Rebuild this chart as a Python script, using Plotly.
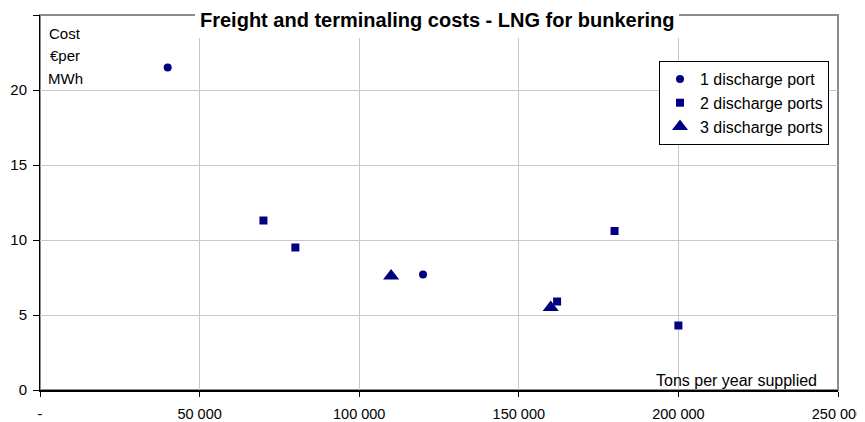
import plotly.graph_objects as go

# Data
one_port_x = [40000, 120000]
one_port_y = [21.5, 7.7]
two_ports_x = [70000, 80000, 162000, 180000, 200000]
two_ports_y = [11.3, 9.5, 5.9, 10.6, 4.3]
three_ports_x = [110000, 160000]
three_ports_y = [7.6, 5.5]

x_tickvals = [0, 50000, 100000, 150000, 200000, 250000]
x_ticktext = ["-", "50 000", "100 000", "150 000", "200 000", "250 000"]
y_tickvals = [0, 5, 10, 15, 20, 25]

NAVY = "#000080"
FONT = "Arial, Liberation Sans, sans-serif"

OFF = 8  # page body margin offset
W, H = 865 - OFF, 422 - OFF
# target plot area in screen pixels
SX0, SX1, SY0, SY1 = 40, 838, 15, 390
L = SX0 - OFF
T = SY0 - OFF
R = W + OFF - SX1
B = H + OFF - SY1
PW, PH = SX1 - SX0, SY1 - SY0

def px(xs):
    return (xs - SX0) / PW

def py(ys):
    return (SY1 - ys) / PH

fig = go.Figure()
fig.add_trace(go.Scatter(x=one_port_x, y=one_port_y, mode="markers", name="1 discharge port",
                         marker=dict(symbol="circle", size=8, color=NAVY)))
fig.add_trace(go.Scatter(x=two_ports_x, y=two_ports_y, mode="markers", name="2 discharge ports",
                         marker=dict(symbol="square", size=8, color=NAVY)))
fig.add_trace(go.Scatter(x=three_ports_x, y=three_ports_y, mode="markers", name="3 discharge ports",
                         marker=dict(symbol="triangle-up", size=14, color=NAVY)))

shapes = [
    # gray plot border (top/right)
    dict(type="rect", xref="x domain", yref="y domain", x0=0, x1=1, y0=0, y1=1,
         line=dict(color="#8c8c8c", width=2), layer="below"),
    # title white box
    dict(type="rect", xref="paper", yref="paper", x0=px(195), x1=px(679), y0=py(38), y1=py(8),
         fillcolor="white", line=dict(width=0), layer="above"),
    # cost label white box
    dict(type="rect", xref="paper", yref="paper", x0=px(41), x1=px(89), y0=py(89), y1=py(16),
         fillcolor="white", line=dict(width=0), layer="above"),
]

annotations = [
    dict(text="<b>Freight and terminaling costs - LNG for bunkering</b>", xref="paper", yref="paper",
         x=px(437), y=py(20), xanchor="center", yanchor="middle", showarrow=False,
         font=dict(family=FONT, size=20, color="black")),
    dict(text="Cost", xref="paper", yref="paper", x=px(65), y=py(33), xanchor="center", yanchor="middle",
         showarrow=False, font=dict(family=FONT, size=15, color="black")),
    dict(text="€per", xref="paper", yref="paper", x=px(65), y=py(56), xanchor="center", yanchor="middle",
         showarrow=False, font=dict(family=FONT, size=15, color="black")),
    dict(text="MWh", xref="paper", yref="paper", x=px(65), y=py(78), xanchor="center", yanchor="middle",
         showarrow=False, font=dict(family=FONT, size=15, color="black")),
    dict(text="Tons per year supplied", xref="paper", yref="paper", x=px(819), y=py(380),
         xanchor="right", yanchor="middle", showarrow=False,
         font=dict(family=FONT, size=16, color="black")),
]

fig.update_layout(
    width=W, height=H,
    margin=dict(l=L, r=R, t=T, b=B, pad=0, autoexpand=False),
    paper_bgcolor="white", plot_bgcolor="white",
    font=dict(family=FONT, size=15, color="black"),
    showlegend=True,
    legend=dict(x=px(829), y=py(61), xanchor="right", yanchor="top",
                bgcolor="white", bordercolor="black", borderwidth=1,
                font=dict(family=FONT, size=16, color="black"),
                itemwidth=30, tracegroupgap=0),
    shapes=shapes,
    annotations=annotations,
    xaxis=dict(range=[0, 250000], tickvals=x_tickvals, ticktext=x_ticktext,
               showgrid=True, gridcolor="#c8c8c8", gridwidth=1, zeroline=False,
               showline=True, linecolor="black", linewidth=2, automargin=False,
               ticks="outside", ticklen=5, tickcolor="black", tickwidth=1,
               ticklabelstandoff=5,
               tickfont=dict(family=FONT, size=14.5, color="black")),
    yaxis=dict(range=[0, 25], tickvals=y_tickvals,
               showgrid=True, gridcolor="#c8c8c8", gridwidth=1, zeroline=False,
               showline=True, linecolor="black", linewidth=1, automargin=False,
               ticks="outside", ticklen=6, tickcolor="black", tickwidth=1,
               ticklabelstandoff=3,
               tickfont=dict(family=FONT, size=15, color="black")),
)

fig.write_html("out.html")
